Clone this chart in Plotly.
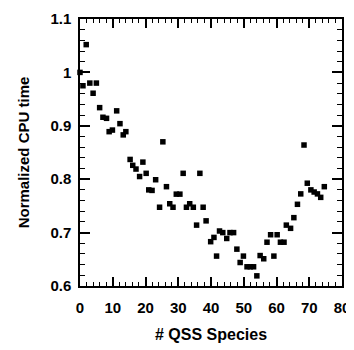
import plotly.graph_objects as go

qss_species = [0, 0.9, 1.9, 3, 4, 5, 6, 7, 8.1, 8.9, 9.9, 11.2, 12.2, 13.2, 14, 15.3, 16.1, 17.1,
               18.2, 19.2, 20.2, 21, 22, 23.1, 24.3, 25.3, 26.4, 27.4, 28.4, 29.4, 30.5, 31.5,
               32.5, 33.5, 34.6, 35.6, 36.6, 37.6, 38.5, 39.9, 40.9, 41.7, 42.6, 43.6, 44.8,
               45.8, 46.9, 47.9, 48.9, 49.9, 51, 52, 53, 54, 55, 56.1, 57.1, 58.2, 59.2, 60.2,
               61.2, 62.3, 63, 64.3, 65.3, 66.4, 67.4, 68.4, 69.4, 70.5, 71.5, 72.5, 73.5, 74.6]
cpu_time = [1.0, 0.975, 1.052, 0.98, 0.961, 0.98, 0.934, 0.916, 0.914, 0.889, 0.892, 0.928,
            0.904, 0.883, 0.889, 0.837, 0.826, 0.819, 0.805, 0.832, 0.811, 0.78, 0.779, 0.799,
            0.7475, 0.87, 0.786, 0.754, 0.7475, 0.772, 0.772, 0.811, 0.7475, 0.754, 0.7475,
            0.714, 0.811, 0.7475, 0.722, 0.683, 0.691, 0.656, 0.703, 0.70, 0.689, 0.70, 0.70,
            0.669, 0.644, 0.656, 0.636, 0.636, 0.636, 0.619, 0.657, 0.651, 0.682, 0.696, 0.656,
            0.696, 0.682, 0.682, 0.714, 0.708, 0.728, 0.753, 0.7725, 0.864, 0.7925, 0.78, 0.776,
            0.7725, 0.766, 0.786]
x_ticks = [0, 10, 20, 30, 40, 50, 60, 70, 80]
y_ticks = [0.6, 0.7, 0.8, 0.9, 1.0, 1.1]
y_labels = ["0.6", "0.7", "0.8", "0.9", "1", "1.1"]

fig = go.Figure(go.Scatter(
    x=qss_species, y=cpu_time, mode="markers",
    marker=dict(symbol="square", size=5.5, color="black"),
    cliponaxis=False,
))

FAM = "Liberation Sans, Arial, sans-serif"
tick_font = dict(family=FAM, size=15, color="black", weight="bold")

fig.update_layout(
    width=346, height=342,
    margin=dict(l=72, r=12, t=11, b=64),
    plot_bgcolor="white", paper_bgcolor="white",
    showlegend=False,
    font=tick_font,
)
fig.update_xaxes(
    range=[0, 80], tickvals=x_ticks, ticks="inside", ticklen=9, tickwidth=1.5,
    tickcolor="black", showline=True, linecolor="black", linewidth=1.5, mirror="ticks",
    showgrid=False, zeroline=False, tickfont=tick_font, ticklabelstandoff=7, automargin=False,
    minor=dict(dtick=2, ticks="inside", ticklen=4, tickwidth=1.2, tickcolor="black", showgrid=False),
    title=dict(text="# QSS Species", font=dict(family=FAM, size=16, color="black", weight="bold"),
               standoff=14),
)
fig.update_yaxes(
    range=[0.6, 1.1], tickvals=y_ticks, ticktext=y_labels, ticks="inside", ticklen=10, tickwidth=1.5,
    tickcolor="black", showline=True, linecolor="black", linewidth=1.5, mirror="ticks",
    showgrid=False, zeroline=False, tickfont=tick_font, ticklabelstandoff=4, automargin=False,
    minor=dict(dtick=0.02, ticks="inside", ticklen=5, tickwidth=1.2, tickcolor="black", showgrid=False),
    title=dict(text="Normalized CPU time", font=dict(family=FAM, size=15, color="black", weight="bold"),
               standoff=17),
)

fig.write_html("out.html")
